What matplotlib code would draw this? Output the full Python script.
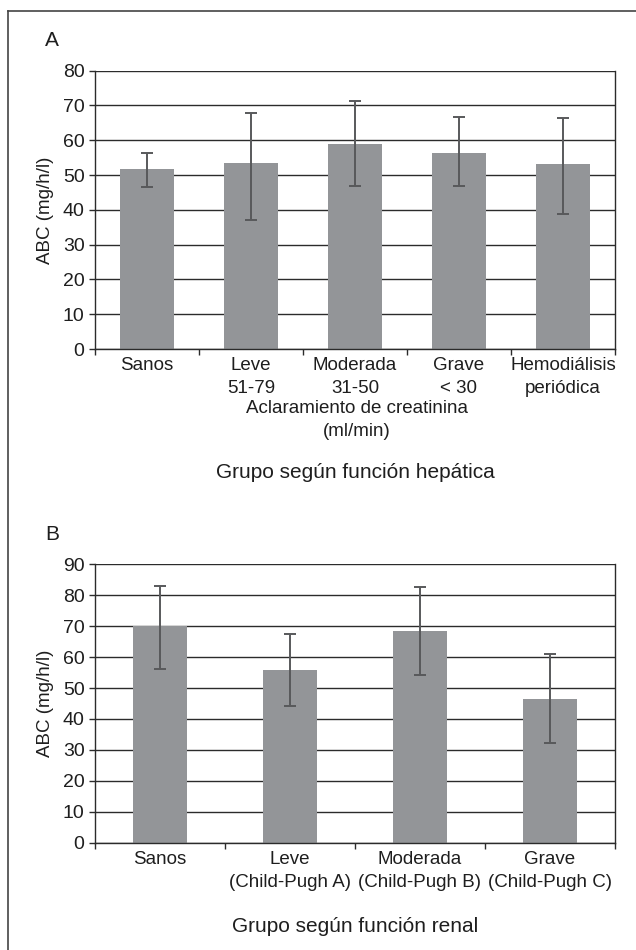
import numpy as np
import matplotlib.pyplot as plt
from matplotlib.lines import Line2D

plt.rcParams['font.family'] = ['Liberation Sans', 'DejaVu Sans']

# Panel A
cats_a  = ["Sanos", "Leve\n51-79", "Moderada\n31-50", "Grave\n< 30", "Hemodiálisis\nperiódica"]
abc_a   = [51.7, 53.4, 58.9, 56.3, 53.2]
low_a   = [46.6, 37.0, 46.8, 46.8, 38.9]   # lower end of error bar
high_a  = [56.4, 67.9, 71.3, 66.7, 66.4]   # upper end of error bar

# Panel B
cats_b  = ["Sanos", "Leve\n(Child-Pugh A)", "Moderada\n(Child-Pugh B)", "Grave\n(Child-Pugh C)"]
abc_b   = [70.2, 55.7, 68.5, 46.3]
low_b   = [56.1, 44.1, 54.1, 32.2]
high_b  = [83.1, 67.6, 82.8, 60.9]

BAR_COLOR = "#939598"
ERR_COLOR = "#58595b"
LINE_COLOR = "#2b2b2b"
TEXT_COLOR = "#1e1e1e"
LSPACE = 1.45

W, H = 636, 950
fig = plt.figure(figsize=(W / 100, H / 100), dpi=100)


def px_rect(left, top, right, bottom):
    """pixel box -> figure fraction rect"""
    return [left / W, 1 - bottom / H, (right - left) / W, (bottom - top) / H]


def bar_panel(ax, cats, vals, lo, hi, ymax, width):
    x = np.arange(len(cats))
    vals = np.array(vals)
    yerr = np.array([vals - np.array(lo), np.array(hi) - vals])
    ax.bar(x, vals, width=width, color=BAR_COLOR, zorder=2)
    ax.errorbar(x, vals, yerr=yerr, fmt="none", ecolor=ERR_COLOR,
                elinewidth=1.4, capsize=4.5, capthick=1.4, zorder=3)
    ax.set_xlim(-0.5, len(cats) - 0.5)
    ax.set_ylim(0, ymax)
    ax.set_yticks(np.arange(0, ymax + 1, 10))
    ax.grid(axis="y", color=LINE_COLOR, linewidth=1.0, zorder=1)
    ax.set_axisbelow(True)
    # category labels at bar centres, tick marks between categories
    ax.set_xticks(x)
    ax.set_xticklabels(cats, fontsize=13.5, color=TEXT_COLOR, linespacing=LSPACE)
    ax.set_xticks(np.arange(len(cats) + 1) - 0.5, minor=True)
    ax.tick_params(axis="x", which="major", length=0, pad=6)
    ax.tick_params(axis="x", which="minor", length=4.5, width=1.0, color=LINE_COLOR)
    ax.tick_params(axis="y", length=4.5, width=1.0, color=LINE_COLOR,
                   labelsize=14, labelcolor=TEXT_COLOR, pad=3)
    ax.spines["top"].set_visible(False)
    for s in ["left", "right", "bottom"]:
        ax.spines[s].set_color(LINE_COLOR)
        ax.spines[s].set_linewidth(1.0)
    ax.set_ylabel("ABC (mg/h/l)", fontsize=13.5, color=TEXT_COLOR, labelpad=6)


# Panel A
ax1 = fig.add_axes(px_rect(95, 70.7, 615, 349))
bar_panel(ax1, cats_a, abc_a, low_a, high_a, 80, 0.52)
fig.text(357 / W, 1 - 400 / H, "Aclaramiento de creatinina\n(ml/min)",
         ha="center", va="top", fontsize=13.5, color=TEXT_COLOR, linespacing=LSPACE)
fig.text(355 / W, 1 - 472 / H, "Grupo según función hepática", ha="center", va="center",
         fontsize=15, color=TEXT_COLOR)
fig.text(52 / W, 1 - 41 / H, "A", ha="center", va="center", fontsize=15, color=TEXT_COLOR)

# Panel B
ax2 = fig.add_axes(px_rect(95, 564.3, 615, 842.7))
bar_panel(ax2, cats_b, abc_b, low_b, high_b, 90, 0.415)
fig.text(355 / W, 1 - 926 / H, "Grupo según función renal", ha="center", va="center",
         fontsize=15, color=TEXT_COLOR)
fig.text(52 / W, 1 - 535 / H, "B", ha="center", va="center", fontsize=15, color=TEXT_COLOR)

# outer frame (top and left edges only)
fig.add_artist(Line2D([8 / W, 1], [1 - 11 / H, 1 - 11 / H], transform=fig.transFigure,
                      color="#444444", linewidth=1.2))
fig.add_artist(Line2D([8 / W, 8 / W], [1 - 11 / H, 0], transform=fig.transFigure,
                      color="#444444", linewidth=1.2))

fig.savefig("out.png", dpi=100)
